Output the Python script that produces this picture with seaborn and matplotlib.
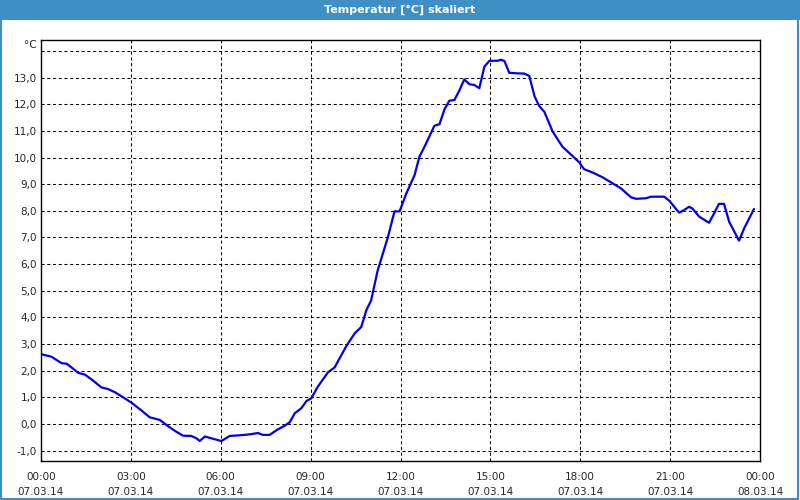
import pandas as pd
import matplotlib.pyplot as plt
import seaborn as sns
from matplotlib.patches import Rectangle
from matplotlib.ticker import FuncFormatter

# Temperature readings, hours since 07.03.14 00:00
hours = [0.0, 0.36, 0.52, 0.69, 0.86, 1.02, 1.24, 1.47, 1.69, 2.02, 2.24, 2.47,
         2.74, 3.02, 3.36, 3.63, 3.97, 4.19, 4.47, 4.74, 5.02, 5.19, 5.30, 5.47,
         5.69, 6.02, 6.30, 6.69, 6.97, 7.24, 7.41, 7.63, 7.91, 8.13, 8.30, 8.47,
         8.69, 8.86, 9.02, 9.24, 9.58, 9.80, 10.19, 10.47, 10.69, 10.86, 11.02,
         11.24, 11.58, 11.80, 11.97, 12.19, 12.47, 12.63, 12.80, 13.13, 13.30,
         13.47, 13.63, 13.80, 13.97, 14.13, 14.30, 14.47, 14.63, 14.80, 14.97,
         15.24, 15.36, 15.47, 15.63, 15.86, 16.13, 16.30, 16.47, 16.63, 16.80,
         17.08, 17.41, 17.74, 17.97, 18.13, 18.41, 18.74, 19.08, 19.36, 19.69,
         19.86, 20.19, 20.36, 20.80, 20.97, 21.30, 21.47, 21.63, 21.74, 21.97,
         22.30, 22.47, 22.63, 22.80, 22.97, 23.30, 23.47, 23.80]
temps = [2.62, 2.52, 2.40, 2.28, 2.26, 2.12, 1.92, 1.85, 1.67, 1.37, 1.31, 1.19,
         1.00, 0.80, 0.50, 0.25, 0.15, -0.04, -0.26, -0.44, -0.45, -0.54, -0.64, -0.47,
         -0.54, -0.64, -0.45, -0.42, -0.39, -0.34, -0.41, -0.41, -0.20, -0.07, 0.06, 0.40,
         0.59, 0.86, 0.96, 1.40, 1.94, 2.12, 2.92, 3.40, 3.64, 4.27, 4.64,
         5.77, 7.01, 7.98, 7.98, 8.64, 9.34, 10.03, 10.40, 11.19, 11.25,
         11.81, 12.13, 12.16, 12.53, 12.93, 12.75, 12.72, 12.60, 13.41, 13.63,
         13.63, 13.67, 13.62, 13.18, 13.16, 13.15, 13.06, 12.31, 11.93, 11.72,
         10.97, 10.40, 10.06, 9.81, 9.56, 9.44, 9.26, 9.03, 8.84, 8.51,
         8.45, 8.47, 8.53, 8.53, 8.38, 7.93, 8.03, 8.15, 8.09, 7.78,
         7.55, 7.91, 8.26, 8.26, 7.59, 6.88, 7.34, 8.07]

tick_hours = [0, 3, 6, 9, 12, 15, 18, 21, 24]
tick_labels = ["00:00\n07.03.14", "03:00\n07.03.14", "06:00\n07.03.14",
               "09:00\n07.03.14", "12:00\n07.03.14", "15:00\n07.03.14",
               "18:00\n07.03.14", "21:00\n07.03.14", "00:00\n08.03.14"]
y_ticks = list(range(-1, 14))

df = pd.DataFrame({"Stunde": hours, "Temperatur": temps})

sns.set_style("white")
plt.rcParams['font.family'] = ['DejaVu Sans']

fig = plt.figure(figsize=(8, 5), dpi=100)
fig.patch.set_facecolor("white")
ax = fig.add_axes([41 / 800, 39 / 500, 719 / 800, 421 / 500])

sns.lineplot(data=df, x="Stunde", y="Temperatur", ax=ax, color="#0000ee", linewidth=1.6)

ax.set_xlim(0, 24)
ax.set_ylim(-1.39, 14.41)
ax.set_xticks(tick_hours)
ax.set_xticklabels(tick_labels, fontsize=7.5, linespacing=1.6)
ax.set_xticks(range(0, 25), minor=True)
ax.set_yticks(y_ticks)
ax.yaxis.set_major_formatter(FuncFormatter(lambda v, p: f"{v:.1f}".replace(".", ",")))
ax.tick_params(axis="y", length=0, labelsize=7.5, pad=3)
ax.tick_params(axis="x", which="both", direction="out", length=4, width=0.8, pad=4)
ax.set_xlabel("")
ax.set_ylabel("")

# dashed grid, including the unlabeled 14 line
for v in y_ticks + [14]:
    ax.axhline(v, color="black", linewidth=0.75, linestyle=(0, (3, 2.5)), zorder=0)
for h in tick_hours[1:-1]:
    ax.axvline(h, color="black", linewidth=0.75, linestyle=(0, (3, 2.5)), zorder=0)

for s in ax.spines.values():
    s.set_visible(True)
    s.set_color("black")
    s.set_linewidth(1.0)

ax.text(-0.006, 1.0, "°C", transform=ax.transAxes, ha="right", va="top", fontsize=7.5)

# title bar and window frame
fig.patches.append(Rectangle((0, 480 / 500), 1, 20 / 500, transform=fig.transFigure,
                             facecolor="#3d8fc6", edgecolor="none", zorder=0))
fig.patches.append(Rectangle((0.001, 0.002), 0.997, 0.99, transform=fig.transFigure,
                             facecolor="none", edgecolor="#3d8fc6", linewidth=1.5, zorder=0))
fig.text(0.5, 490 / 500, "Temperatur [°C] skaliert", ha="center", va="center",
         color="white", fontsize=8, fontweight="bold")

fig.savefig("out.png", dpi=100)
